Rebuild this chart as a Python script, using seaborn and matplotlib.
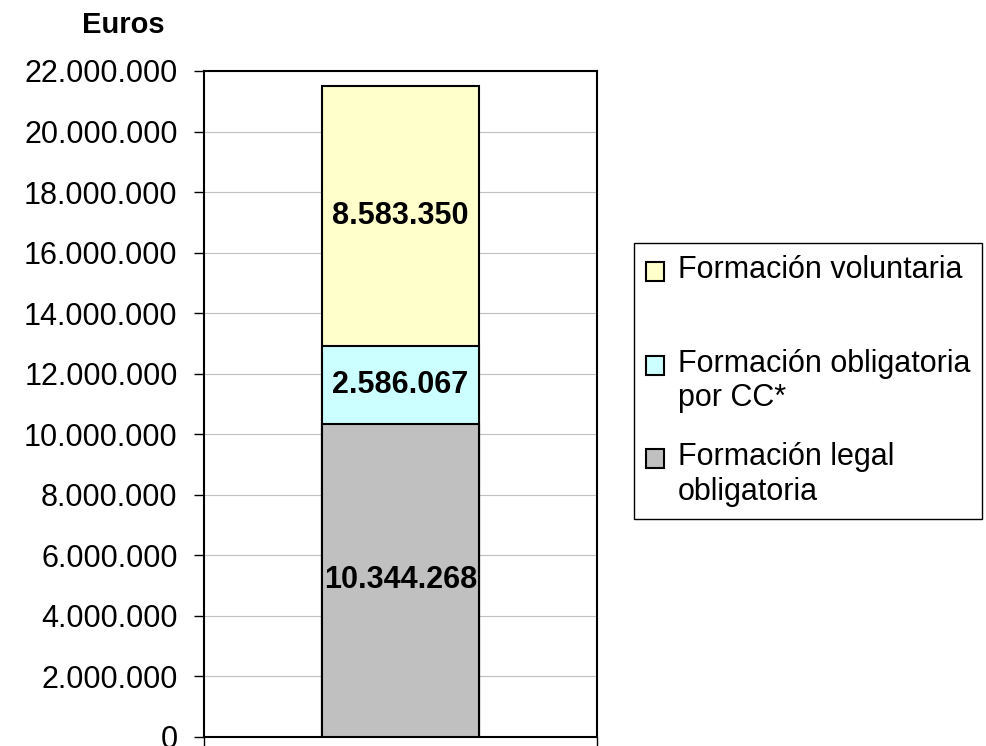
import matplotlib
matplotlib.use("Agg")
import matplotlib.pyplot as plt
from matplotlib.patches import Rectangle
from matplotlib.legend_handler import HandlerPatch
from matplotlib.ticker import FuncFormatter, FixedLocator
import seaborn as sns
import pandas as pd

# ---- data ----
categories = [""]
series_names = ["Formación legal\nobligatoria", "Formación obligatoria\npor CC*", "Formación voluntaria"]
legal = [10344268]
cc = [2586067]
voluntaria = [8583350]
colors = ["#C0C0C0", "#CCFFFF", "#FFFFCC"]
value_labels = ["10.344.268", "2.586.067", "8.583.350"]
y_ticks = list(range(0, 22000001, 2000000))

sns.set_theme(style="white")
plt.rcParams["font.family"] = ["Liberation Sans", "DejaVu Sans"]
plt.rcParams["text.color"] = "black"
plt.rcParams["axes.labelcolor"] = "black"
plt.rcParams["xtick.color"] = "black"
plt.rcParams["ytick.color"] = "black"

fig = plt.figure(figsize=(9.87, 7.46), dpi=100)
ax = fig.add_axes([204/987, 1-737/746, (597-204)/987, (737-71)/746])

layers = [legal, cc, voluntaria]
cum = []
run = [0] * len(categories)
for layer in layers:
    run = [r + v for r, v in zip(run, layer)]
    cum.append(list(run))

# draw tallest first so lower segments overlay
for i in reversed(range(len(layers))):
    df = pd.DataFrame({"cat": categories, "val": cum[i]})
    sns.barplot(data=df, x="cat", y="val", color=colors[i], width=0.4,
                edgecolor="black", linewidth=1.5, saturation=1, ax=ax, zorder=3)

# segment labels centered in each segment
bottoms = [0] + [c[0] for c in cum[:-1]]
for i, layer in enumerate(layers):
    center = bottoms[i] + layer[0] / 2
    ax.text(0, center, value_labels[i], ha="center", va="center",
            fontsize=22, fontweight="bold", color="black", zorder=5)

ax.set_xlim(-0.5, 0.5)
ax.set_ylim(0, 22000000)
ax.yaxis.set_major_locator(FixedLocator(y_ticks))
ax.yaxis.set_major_formatter(FuncFormatter(lambda v, p: f"{v:,.0f}".replace(",", ".")))
ax.tick_params(axis="y", which="major", direction="out", length=7, width=1,
               color="black", labelsize=22, pad=12, left=True, labelcolor="black")
ax.set_xticks([])
ax.xaxis.set_minor_locator(FixedLocator([-0.5, 0.5]))
ax.tick_params(axis="x", which="minor", direction="out", length=7, width=1, color="black", bottom=True)
ax.set_xlabel("")
ax.set_ylabel("")
ax.grid(axis="y", color="#C0C0C0", linewidth=0.8, zorder=0)
ax.set_axisbelow(True)
for s in ax.spines.values():
    s.set_visible(True)
    s.set_color("black")
    s.set_linewidth(1.5)

fig.text(123/987, 1-25/746, "Euros", ha="center", va="center", fontsize=21,
         fontweight="bold", color="black")

# legend: handle aligned to the first text line
def make_handler(shift):
    def f(legend, orig_handle, xdescent, ydescent, width, height, fontsize):
        return Rectangle((-xdescent, -ydescent + shift * fontsize), width, height)
    return HandlerPatch(patch_func=f)

handles = [Rectangle((0, 0), 1, 1, facecolor=colors[i], edgecolor="black", linewidth=1.5)
           for i in (2, 1, 0)]
labels = [series_names[2] + "\n ", series_names[1], series_names[0]]
hm = {h: make_handler(0.55) for h in handles}
leg = fig.legend(handles, labels, loc="upper left", bbox_to_anchor=(634/987, 1-243/746),
                 borderaxespad=0, fontsize=22, frameon=True, fancybox=False,
                 edgecolor="black", framealpha=1, handlelength=0.58, handleheight=0.58,
                 handletextpad=0.45, labelspacing=0.95, borderpad=0.4, handler_map=hm)
leg.get_frame().set_linewidth(1.0)
for t in leg.get_texts():
    t.set_color("black")

fig.savefig("out.png", dpi=100)
